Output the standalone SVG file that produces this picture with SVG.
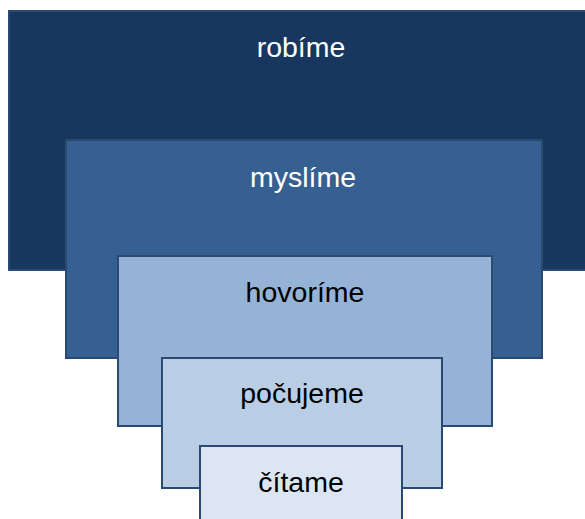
<svg xmlns="http://www.w3.org/2000/svg" width="585" height="519" viewBox="0 0 585 519">
<style>
.box{stroke:#2a4a72;stroke-width:2}
.t{font-family:"Liberation Sans",Arial,sans-serif;font-size:28.5px;text-anchor:middle}
.w{fill:#ffffff}
.k{fill:#000000}
</style>
<rect width="585" height="519" fill="#ffffff"/>
<g id="robime">
<rect class="box" x="9" y="11" width="580" height="259" fill="#17375e" stroke="#1f3f66"/>
<text class="t w" x="301" y="57">robíme</text>
</g>
<g id="myslime">
<rect class="box" x="66" y="140" width="476" height="218" fill="#376092"/>
<text class="t w" x="303" y="187">myslíme</text>
</g>
<g id="hovorime">
<rect class="box" x="118" y="256" width="374" height="170" fill="#95b3d7"/>
<text class="t k" x="305" y="302">hovoríme</text>
</g>
<g id="pocujeme">
<rect class="box" x="162" y="358" width="280" height="130" fill="#b9cde5"/>
<text class="t k" x="302" y="403">počujeme</text>
</g>
<g id="citame">
<rect class="box" x="200" y="446" width="202" height="80" fill="#dce6f2"/>
<text class="t k" x="301" y="492">čítame</text>
</g>
<g id="connectors"/>
</svg>
